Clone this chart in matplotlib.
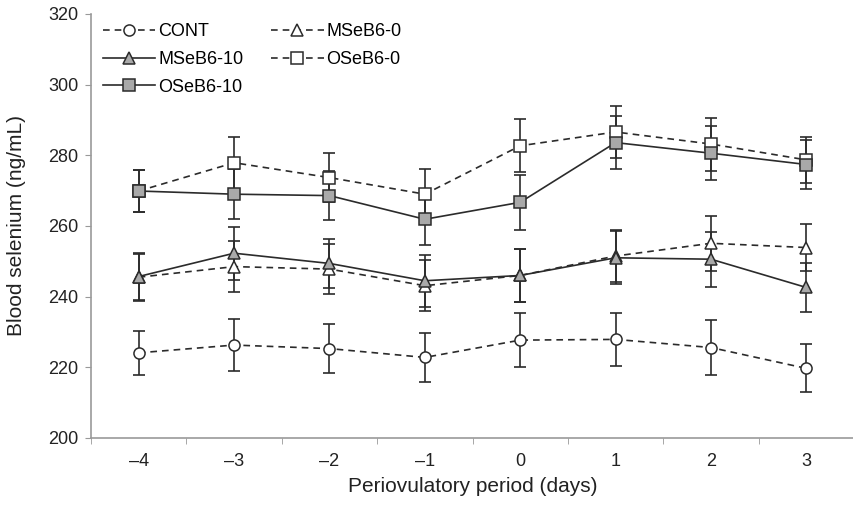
import matplotlib.pyplot as plt
import numpy as np

plt.rcParams['font.family'] = ['Liberation Sans', 'DejaVu Sans']

days = [-4, -3, -2, -1, 0, 1, 2, 3]
day_labels = ["\u20134", "\u20133", "\u20132", "\u20131", "0", "1", "2", "3"]

cont = [224.1, 226.3, 225.3, 222.8, 227.7, 227.9, 225.6, 219.7]
cont_err = [6.3, 7.4, 7.0, 7.0, 7.6, 7.4, 7.8, 6.8]

mseb0 = [245.5, 248.5, 247.8, 243.1, 246.0, 251.5, 255.1, 253.9]
mseb0_err = [6.6, 7.3, 7.0, 7.2, 7.5, 7.4, 7.7, 6.7]

mseb10 = [245.7, 252.3, 249.4, 244.5, 246.0, 251.0, 250.6, 242.6]
mseb10_err = [6.6, 7.5, 7.0, 7.3, 7.5, 7.5, 7.8, 7.0]

oseb0 = [269.9, 277.9, 273.7, 269.0, 282.7, 286.6, 283.2, 278.7]
oseb0_err = [6.0, 7.4, 7.0, 7.0, 7.5, 7.3, 7.5, 6.4]

oseb10 = [269.9, 269.0, 268.6, 261.9, 266.7, 283.6, 280.6, 277.4]
oseb10_err = [6.0, 7.0, 7.0, 7.4, 7.7, 7.6, 7.6, 6.8]

line_c = "#2b2b2b"
fill_c = "#a9a9a9"
dash = (0, (4, 3))

fig = plt.figure(figsize=(8.54, 5.05), dpi=100)
ax = fig.add_axes([0.1066, 0.1327, 0.8934, 0.8396])

series = [
    ("CONT", cont, cont_err, "o", "white", dash, 8),
    ("MSeB6-0", mseb0, mseb0_err, "^", "white", dash, 9),
    ("MSeB6-10", mseb10, mseb10_err, "^", fill_c, "-", 9),
    ("OSeB6-0", oseb0, oseb0_err, "s", "white", dash, 8.5),
    ("OSeB6-10", oseb10, oseb10_err, "s", fill_c, "-", 8.5),
]

handles = []
for name, vals, errs, mk, fc, ls, ms in series:
    ax.errorbar(days, vals, yerr=errs, fmt="none", ecolor=line_c,
                elinewidth=1.2, capsize=4, capthick=1.2, zorder=2)
    h, = ax.plot(days, vals, color=line_c, linestyle=ls, linewidth=1.2,
                 marker=mk, markersize=ms, markerfacecolor=fc,
                 markeredgecolor=line_c, markeredgewidth=1.1, label=name,
                 zorder=3)
    handles.append(h)

ax.set_xlim(-4.5, 3.5)
ax.set_ylim(200, 320)
ax.set_yticks(np.arange(200, 321, 20))
ax.set_xticks(days)
ax.set_xticklabels(day_labels)
ax.set_xticks(np.arange(-4.5, 3.6, 1), minor=True)
ax.tick_params(axis="x", which="major", length=0, pad=11, labelsize=13, colors="#222222")
ax.tick_params(axis="x", which="minor", length=4, direction="out", color="#999999")
ax.tick_params(axis="y", length=4, direction="out", color="#999999", labelsize=13,
               labelcolor="#222222", pad=5)

for side in ["top", "right"]:
    ax.spines[side].set_visible(False)
for side in ["left", "bottom"]:
    ax.spines[side].set_color("#999999")
    ax.spines[side].set_linewidth(1.2)

ax.set_xlabel("Periovulatory period (days)", fontsize=15, color="#222222", labelpad=5)
ax.set_ylabel("Blood selenium (ng/mL)", fontsize=15, color="#222222", labelpad=16)

order = [handles[0], handles[2], handles[4], handles[1], handles[3]]
ax.legend(handles=order, ncol=2, frameon=False, loc="upper left",
          bbox_to_anchor=(0.004, 1.0), fontsize=13, handlelength=2.9,
          handletextpad=0.15, columnspacing=1.55, labelspacing=0.6,
          borderaxespad=0.1)

fig.savefig("out.png", dpi=100)
